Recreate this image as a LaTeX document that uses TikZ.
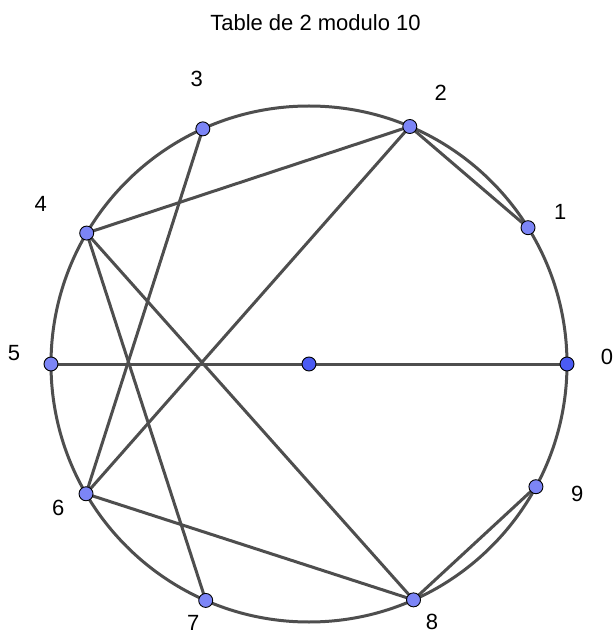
\documentclass[tikz,border=0pt]{standalone}
\usepackage{fontspec}
\setmainfont{Liberation Sans}
\definecolor{linegray}{RGB}{78,78,78}
\definecolor{dotlight}{RGB}{124,133,246}
\definecolor{dotdark}{RGB}{75,91,243}
\begin{document}
\begin{tikzpicture}[x=1pt,y=1pt,
  chord/.style={draw=linegray,line width=3pt},
  dotlt/.style={circle,fill=dotlight,draw=black,line width=0.9pt,minimum size=14pt,inner sep=0pt},
  dotdk/.style={circle,fill=dotdark,draw=black,line width=0.9pt,minimum size=14pt,inner sep=0pt},
  lbl/.style={font=\fontsize{22}{26}\selectfont,text=black,inner sep=0pt}]
\useasboundingbox (-309,-271) rectangle (304,364);
\fill[white] (-309,-271) rectangle (304,364);
% points on the circle
\coordinate (c) at (0,0);
\coordinate (p0) at (0:258);
\coordinate (p1) at (31.9:258);
\coordinate (p2) at (67.0:258);
\coordinate (p3) at (114.3:258);
\coordinate (p4) at (149.5:258);
\coordinate (p5) at (180:258);
\coordinate (p6) at (210.2:258);
\coordinate (p7) at (246.4:258);
\coordinate (p8) at (293.9:258);
\coordinate (p9) at (331.6:258);
% circle
\draw[chord] (c) circle (258);
% chords
\draw[chord] (p1) -- (p2);
\draw[chord] (p2) -- (p4);
\draw[chord] (p3) -- (p6);
\draw[chord] (p4) -- (p8);
\draw[chord] (p5) -- (p0);
\draw[chord] (p6) -- (p2);
\draw[chord] (p7) -- (p4);
\draw[chord] (p8) -- (p6);
\draw[chord] (p9) -- (p8);
% dots
\node[dotdk] (dc) at (c) {};
\node[dotdk] (d0) at (p0) {};
\node[dotlt] (d1) at (p1) {};
\node[dotlt] (d2) at (p2) {};
\node[dotlt] (d3) at (p3) {};
\node[dotlt] (d4) at (p4) {};
\node[dotlt] (d5) at (p5) {};
\node[dotlt] (d6) at (p6) {};
\node[dotlt] (d7) at (p7) {};
\node[dotlt] (d8) at (p8) {};
\node[dotlt] (d9) at (p9) {};
% labels
\node[lbl] (title) at (6.5,341) {Table de 2 modulo 10};
\node[lbl] (l0) at (298,7.3) {0};
\node[lbl] (l1) at (251.3,151.7) {1};
\node[lbl] (l2) at (131.7,270.7) {2};
\node[lbl] (l3) at (-112.3,284.7) {3};
\node[lbl] (l4) at (-268.3,160) {4};
\node[lbl] (l5) at (-295,10.7) {5};
\node[lbl] (l6) at (-250.7,-144.3) {6};
\node[lbl] (l7) at (-115.7,-259) {7};
\node[lbl] (l8) at (123,-257.7) {8};
\node[lbl] (l9) at (268.3,-130) {9};
\end{tikzpicture}
\end{document}
